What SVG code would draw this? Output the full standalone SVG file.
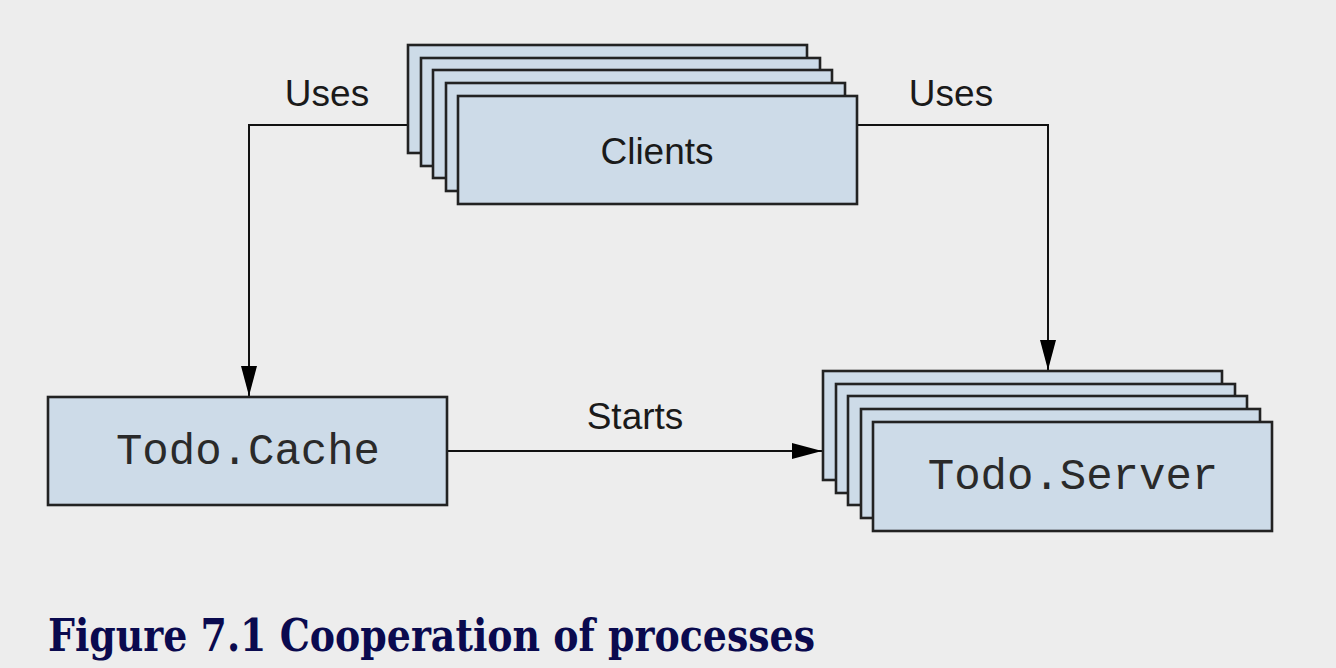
<svg xmlns="http://www.w3.org/2000/svg" width="1336" height="668" viewBox="0 0 1336 668">
<style>
.box{fill:#cddbe8;stroke:#222;stroke-width:2.6}
.lbl{font-family:"Liberation Sans",Arial,sans-serif;font-size:37px;fill:#1a1a1a}
.mono{font-family:"Liberation Mono","Courier New",monospace;font-size:44px;fill:#2a2a2a}
.edge{fill:none;stroke:#111;stroke-width:2}
</style>
<defs>
<marker id="arr" viewBox="0 0 30 16" refX="30" refY="8" markerWidth="30" markerHeight="16" markerUnits="userSpaceOnUse" orient="auto">
<path d="M0,0 L30,8 L0,16 z" fill="#000"/>
</marker>
</defs>
<rect width="1336" height="668" fill="#ededed"/>
<g id="connectors">
<polyline class="edge" points="408,125 249,125 249,396" marker-end="url(#arr)"/>
<polyline class="edge" points="857,125 1048,125 1048,370" marker-end="url(#arr)"/>
<line class="edge" x1="447" y1="451" x2="822" y2="451" marker-end="url(#arr)"/>
<text class="lbl" x="327" y="106" text-anchor="middle">Uses</text>
<text class="lbl" x="951" y="106" text-anchor="middle">Uses</text>
<text class="lbl" x="635" y="429" text-anchor="middle">Starts</text>
</g>
<g id="clients">
<rect class="box" x="408" y="45" width="399" height="108"/>
<rect class="box" x="421" y="58" width="399" height="108"/>
<rect class="box" x="433" y="70" width="399" height="108"/>
<rect class="box" x="446" y="83" width="399" height="108"/>
<rect class="box" x="458" y="96" width="399" height="108"/>
<text class="lbl" x="657" y="164" text-anchor="middle">Clients</text>
</g>
<g id="todo-cache">
<rect class="box" x="48" y="397" width="399" height="108"/>
<text class="mono" x="248" y="464" text-anchor="middle">Todo.Cache</text>
</g>
<g id="todo-server">
<rect class="box" x="823" y="371" width="399" height="109"/>
<rect class="box" x="836" y="384" width="399" height="109"/>
<rect class="box" x="848" y="396" width="399" height="109"/>
<rect class="box" x="861" y="409" width="399" height="109"/>
<rect class="box" x="873" y="422" width="399" height="109"/>
<text class="mono" x="1073" y="489" text-anchor="middle">Todo.Server</text>
</g>
<g id="caption">
<text x="48" y="651" font-family="'DejaVu Serif','Liberation Serif',serif" font-weight="bold" font-size="45" fill="#0a0a4f" textLength="767" lengthAdjust="spacingAndGlyphs">Figure 7.1 Cooperation of processes</text>
</g>
</svg>
